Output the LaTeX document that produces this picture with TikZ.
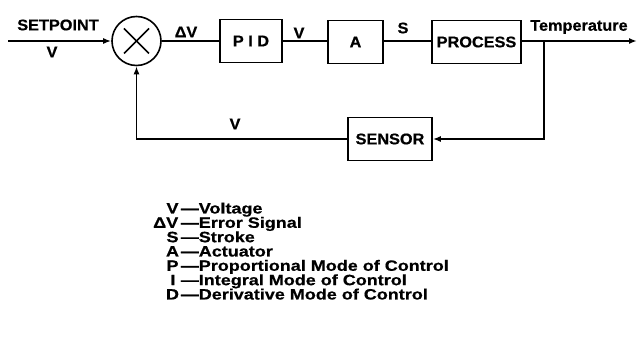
\documentclass[tikz,border=0pt]{standalone}
\usepackage{fontspec}
\setmainfont{Liberation Sans}[FakeStretch=1.05,FakeBold=0.6]
\newfontfamily\legfont{Liberation Sans}[FakeStretch=1.2,FakeBold=0.6]
\usetikzlibrary{arrows.meta}
\begin{document}
\begin{tikzpicture}[x=1pt,y=-1pt, line width=1.6pt,
  blk/.style={draw, line width=1.6pt, minimum width=#1, minimum height=43pt, inner sep=0pt,
    font=\fontsize{15.5}{18}\selectfont\bfseries},
  lbl/.style={font=\fontsize{15.5}{18}\selectfont\bfseries, inner sep=0pt},
  leg/.style={font=\legfont\fontsize{15}{16}\selectfont\bfseries, inner sep=0pt, anchor=base},
  arr/.style={-{Latex[length=8pt,width=6pt]}}]
\useasboundingbox (0,0) rectangle (640,347);
% blocks
\node[circle, draw, minimum size=49pt, inner sep=0pt] (sum) at (136.5,41) {};
\draw ([shift={(-12.5,-12.5)}]sum.center) -- ([shift={(12.5,12.5)}]sum.center);
\draw ([shift={(-12.5,12.5)}]sum.center) -- ([shift={(12.5,-12.5)}]sum.center);
\coordinate (in) at (8,41);
\node[blk=62pt] (pid) at (251,41) {P I D};
\node[blk=55pt] (act) at (355.5,42) {A};
\node[blk=89pt] (proc) at (476.5,42) {PROCESS};
\coordinate (out) at (637,41);
\coordinate (br) at (544,41);
\node[blk=84pt] (sens) at (390,139) {SENSOR};
\coordinate (fb) at (136.5,139);
% connectors
\draw[arr] (in) -- (sum);
\draw (sum) -- (pid);
\draw (pid.east |- sum) -- (act.west |- sum);
\draw (act.east |- sum) -- (proc.west |- sum);
\draw[arr] (proc.east |- sum) -- (out);
\draw[arr] (br) |- (sens);
\draw[arr] (sens) -- (fb) -- (sum);
% labels
\node[lbl] (sp) at (58,25) {SETPOINT};
\node[lbl] (v0) at (52,52) {V};
\node[lbl] (dv) at (186,32) {ΔV};
\node[lbl] (v1) at (299,33) {V};
\node[lbl] (s) at (403,28) {S};
\node[lbl] (temp) at (579,27) {Temperature};
\node[lbl] (v2) at (235,124) {V};
% legend
\node[leg] (k1) at (172.5,213.5) {V};
\node[leg, anchor=base east] (k2) at (179,227.8) {ΔV};
\node[leg] (k3) at (172.5,242.2) {S};
\node[leg] (k4) at (172.5,256.5) {A};
\node[leg] (k5) at (172.5,270.8) {P};
\node[leg] (k6) at (173,285.2) {I};
\node[leg] (k7) at (172.5,299.5) {D};
\node[leg, anchor=base west] (d1) at (180,213.5) {—Voltage};
\node[leg, anchor=base west] (d2) at (180,227.8) {—Error Signal};
\node[leg, anchor=base west] (d3) at (180,242.2) {—Stroke};
\node[leg, anchor=base west] (d4) at (180,256.5) {—Actuator};
\node[leg, anchor=base west] (d5) at (180,270.8) {—Proportional Mode of Control};
\node[leg, anchor=base west] (d6) at (180,285.2) {—Integral Mode of Control};
\node[leg, anchor=base west] (d7) at (180,299.5) {—Derivative Mode of Control};
\end{tikzpicture}
\end{document}
